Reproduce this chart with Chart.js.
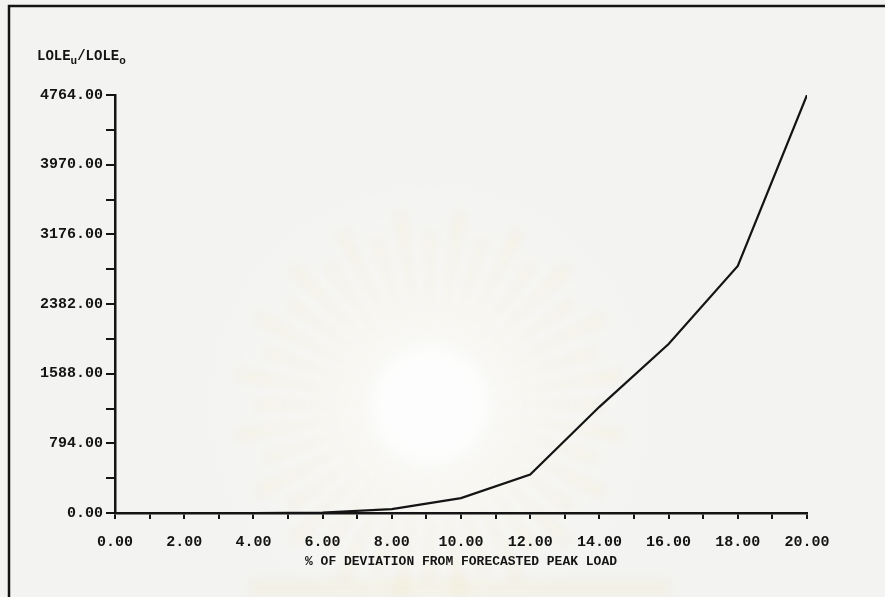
<!DOCTYPE html>
<html>
<head>
<meta charset="utf-8">
<script src="https://cdn.jsdelivr.net/npm/chart.js@4"></script>
<style>
  html, body { margin: 0; padding: 0; background: #f3f3f1; }
  canvas { display: block; }
</style>
</head>
<body>
<canvas id="chart" width="885" height="597"></canvas>
<script>
// % deviation from forecasted peak load
const deviationPct = [0, 2, 4, 6, 8, 10, 12, 14, 16, 18, 20];
// LOLE ratio (uncertain / original) at each deviation
const loleRatio = [0, 0, 0, 5, 45, 170, 437, 1210, 1925, 2815, 4764];

// axis tick settings
const yMax = 4764;
const yMinorStep = 397;
const yLabelStep = 794;
const xMax = 20;
const xMinorStep = 1;
const xLabelStep = 2;

const xAxisTitle = '% OF DEVIATION FROM FORECASTED PEAK LOAD';
// y title pieces: [text, isSubscript]
const yTitleParts = [['LOLE', false], ['u', true], ['/LOLE', false], ['o', true]];

const INK = '#141414';
const MONO = '"Liberation Mono", "DejaVu Sans Mono", monospace';

// paper background, faint emblem watermark, frame lines and the y-axis title
const paperPlugin = {
  id: 'paper',
  beforeDraw(chart) {
    const ctx = chart.ctx;
    ctx.save();
    ctx.fillStyle = '#f3f3f1';
    ctx.fillRect(0, 0, chart.width, chart.height);

    const cx = 430, cy = 405;
    // light halo behind the emblem
    const halo = ctx.createRadialGradient(cx, cy, 20, cx, cy, 230);
    halo.addColorStop(0, 'rgba(255,255,255,0.7)');
    halo.addColorStop(1, 'rgba(255,255,255,0)');
    ctx.fillStyle = halo;
    ctx.fillRect(cx - 240, cy - 240, 480, 480);

    ctx.filter = 'blur(5px)';
    const n = 40;
    for (let i = 0; i < n; i++) {
      const a = (i / n) * Math.PI * 2;
      const w = (Math.PI / n) * 0.5;
      const r0 = 62, r1 = 175 + (i % 2) * 20;
      ctx.beginPath();
      ctx.moveTo(cx + Math.cos(a - w * 0.6) * r0, cy + Math.sin(a - w * 0.6) * r0);
      ctx.lineTo(cx + Math.cos(a - w) * r1, cy + Math.sin(a - w) * r1);
      ctx.lineTo(cx + Math.cos(a + w) * r1, cy + Math.sin(a + w) * r1);
      ctx.lineTo(cx + Math.cos(a + w * 0.6) * r0, cy + Math.sin(a + w * 0.6) * r0);
      ctx.closePath();
      ctx.fillStyle = 'rgba(240, 225, 160, 0.13)';
      ctx.fill();
    }
    ctx.beginPath();
    ctx.arc(cx, cy, 58, 0, Math.PI * 2);
    ctx.fillStyle = 'rgba(255,255,255,0.55)';
    ctx.fill();
    // caption band under the emblem
    ctx.fillStyle = 'rgba(240, 225, 160, 0.12)';
    ctx.fillRect(250, 578, 420, 19);
    ctx.filter = 'none';

    // frame
    ctx.strokeStyle = INK;
    ctx.lineWidth = 2.5;
    ctx.beginPath();
    ctx.moveTo(885, 6);
    ctx.lineTo(9, 6);
    ctx.lineTo(9, 597);
    ctx.stroke();

    // y-axis title with subscripts
    let x = 37;
    const base = 60;
    ctx.fillStyle = INK;
    ctx.textBaseline = 'alphabetic';
    ctx.textAlign = 'left';
    for (const [txt, sub] of yTitleParts) {
      ctx.font = sub ? 'bold 11px ' + MONO : 'bold 14px ' + MONO;
      ctx.fillText(txt, x, sub ? base + 4 : base);
      x += ctx.measureText(txt).width;
    }
    ctx.restore();
  }
};

const points = deviationPct.map((d, i) => ({ x: d, y: loleRatio[i] }));

new Chart(document.getElementById('chart'), {
  type: 'line',
  data: {
    datasets: [{
      data: points,
      borderColor: INK,
      borderWidth: 2.2,
      pointRadius: 0,
      tension: 0,
      fill: false
    }]
  },
  options: {
    responsive: false,
    animation: false,
    layout: { padding: { top: 95, right: 78, left: 0, bottom: 0 } },
    plugins: { legend: { display: false }, tooltip: { enabled: false } },
    scales: {
      x: {
        type: 'linear',
        min: 0,
        max: xMax,
        afterFit(scale) { scale.height = 84; },
        border: { display: true, color: INK, width: 2.5 },
        grid: { drawOnChartArea: false, drawTicks: true, tickLength: 6, color: INK, lineWidth: 2 },
        ticks: {
          stepSize: xMinorStep,
          autoSkip: false,
          maxRotation: 0,
          padding: 14,
          color: INK,
          font: { family: MONO, size: 15, weight: 'bold' },
          callback: (v) => (Math.round(v) % xLabelStep === 0 ? v.toFixed(2) : '')
        },
        title: {
          display: true,
          text: xAxisTitle,
          color: INK,
          font: { family: MONO, size: 13, weight: 'bold' },
          padding: { top: 0, bottom: 27 }
        }
      },
      y: {
        type: 'linear',
        min: 0,
        max: yMax,
        afterFit(scale) { scale.width = 115; },
        border: { display: true, color: INK, width: 2.5 },
        grid: { drawOnChartArea: false, drawTicks: true, tickLength: 9, color: INK, lineWidth: 2 },
        ticks: {
          stepSize: yMinorStep,
          autoSkip: false,
          padding: 3,
          color: INK,
          font: { family: MONO, size: 15, weight: 'bold' },
          callback: (v) => (Math.round(v) % yLabelStep === 0 ? v.toFixed(2) : '')
        }
      }
    }
  },
  plugins: [paperPlugin]
});
</script>
</body>
</html>
